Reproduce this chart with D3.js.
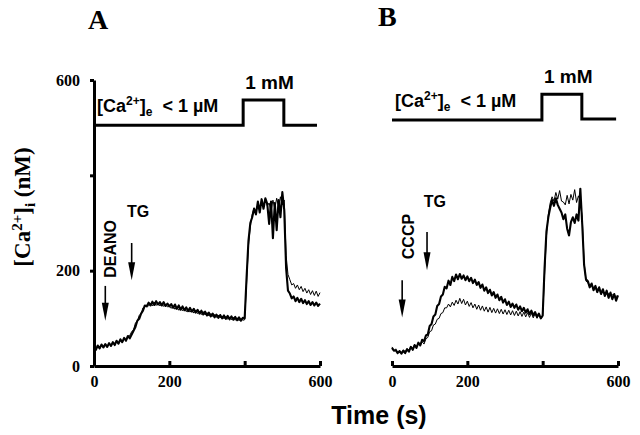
<!DOCTYPE html>
<meta charset="utf-8">
<style>
body { margin: 0; background: #fff; }
.trace { fill: none; stroke: #000; stroke-linejoin: round; }
.thick { stroke-width: 2.1px; }
.thin { stroke-width: 1px; }
.step { fill: none; stroke: #000; stroke-width: 3px; }
.axis path, .axis line { stroke: #000; stroke-width: 3px; }
.axis text { font-family: "Liberation Serif", "Times New Roman", serif; font-weight: bold; font-size: 16px; fill: #000; }
.sans { font-family: "Liberation Sans", Arial, sans-serif; font-weight: bold; fill: #000; }
.serif { font-family: "Liberation Serif", "Times New Roman", serif; font-weight: bold; fill: #000; }
</style>
<body>
<script src="https://d3js.org/d3.v7.min.js"></script>
<script>

// sample clock, one reading every 5 s
var times = d3.range(0, 605, 5);

// panel A (DEANO), [Ca2+]i in nM
var deanoThick = [40,34,43,37,45,39,46,40,48,42,50,44,53,47,56,50,59,53,63,58,
  66,74,82,95,99,110,116,127,125,133,127,135,128,136,129,134,127,134,126,131,
  125,130,122,129,120,127,118,125,117,123,115,122,114,120,112,118,110,116,108,114,
  106,112,104,110,102,108,101,107,100,106,99,105,98,104,97,103,96,102,95,101,
  100,185,262,300,312,330,318,345,322,350,330,352,340,298,345,268,342,285,348,312,365,328,
  205,158,152,142,146,136,143,134,141,132,138,130,136,128,134,127,133,126,131];
var deanoThin = [44,38,41,36,44,38,45,40,47,42,49,44,52,46,55,49,58,52,62,64,
  72,76,90,94,106,110,122,124,128,126,131,126,134,127,132,126,131,125,130,124,
  127,121,126,119,124,117,123,116,121,114,120,113,118,111,117,110,115,108,114,107,
  112,105,110,104,108,102,107,101,105,99,104,98,103,97,102,96,101,95,100,96,
  97,172,252,292,318,332,322,340,326,348,332,350,336,342,324,348,330,352,334,355,338,348,
  232,192,181,170,173,163,170,160,167,156,163,153,160,150,158,148,157,146,154];

// panel B (CCCP)
var cccpThick = [38,32,33,27,31,26,32,27,35,30,40,34,44,38,49,43,55,52,64,66,
  84,88,104,108,126,130,146,150,166,163,179,170,187,178,192,182,193,183,190,180,
  188,178,185,174,181,170,176,164,171,158,165,153,160,148,155,143,150,138,145,133,
  140,128,135,124,131,122,129,118,125,115,122,112,119,109,116,106,113,103,110,100,
  106,205,282,312,332,348,336,352,338,330,322,308,318,288,274,302,312,300,318,305,372,298,
  212,182,178,165,173,159,168,155,165,151,161,147,158,143,154,140,151,137,148];
var cccpThin = [40,32,36,29,33,28,34,30,37,33,41,36,45,40,48,43,51,46,57,60,
  72,74,86,88,98,100,110,112,122,122,130,124,134,127,138,130,142,131,140,128,
  136,125,133,122,130,119,128,117,126,115,124,113,123,112,121,111,120,110,119,109,
  118,108,117,107,116,106,115,105,114,104,113,103,112,102,111,101,110,100,109,99,
  104,192,272,318,342,355,346,364,350,368,346,344,338,358,340,360,348,370,343,357,346,312,
  218,178,175,166,168,165,162,161,158,157,154,154,151,152,148,150,146,147,144];

// extracellular Ca2+ protocol trace (drawn on the same y scale)
var stepTimesA = [0, 396, 504, 592];
var stepLevelsA = [505, 558, 505, 505];
var stepTimesB = [0, 398, 504, 595];
var stepLevelsB = [516, 570, 518, 518];

var xTicks = [0, 200, 400, 600];
var yTicks = [0, 200, 400, 600];

// arrows: time, top and tip in nM
var arrowsA = [{t: 30, top: 168, tip: 95}, {t: 100, top: 258, tip: 180}];
var arrowsB = [{t: 27, top: 180, tip: 102}, {t: 93, top: 281, tip: 201}];

var width = 640, height = 435;
var svg = d3.select("body").append("svg")
    .attr("width", width)
    .attr("height", height);

var y = d3.scaleLinear().domain([0, 600]).range([366, 80]);
var xA = d3.scaleLinear().domain([0, 600]).range([94, 320]);
var xB = d3.scaleLinear().domain([0, 600]).range([392, 618]);

function tickFmt(d) { return d === 400 ? "" : d; }

function drawPanel(x, thick, thin, stepT, stepL, arrows) {
  var g = svg.append("g");

  // x axis, ticks pointing up
  g.append("g")
      .attr("class", "axis")
      .attr("transform", "translate(0," + y(0) + ")")
      .call(d3.axisBottom(x).tickValues(xTicks).tickSizeInner(-5).tickSizeOuter(0)
        .tickPadding(10).tickFormat(tickFmt));

  var line = d3.line()
      .x(function(d, i) { return x(times[i]); })
      .y(function(d) { return y(d); });

  g.append("path").datum(thin).attr("class", "trace thin").attr("d", line);
  g.append("path").datum(thick).attr("class", "trace thick").attr("d", line);

  var stepLine = d3.line()
      .curve(d3.curveStepAfter)
      .x(function(d, i) { return x(stepT[i]); })
      .y(function(d) { return y(d); });
  g.append("path").datum(stepL).attr("class", "step").attr("d", stepLine);

  arrows.forEach(function(a) {
    var ax = x(a.t), top = y(a.top), tip = y(a.tip), head = 18;
    g.append("line")
        .attr("x1", ax).attr("x2", ax)
        .attr("y1", top).attr("y2", tip - head + 2)
        .attr("stroke", "#000").attr("stroke-width", 1.6);
    g.append("path")
        .attr("d", "M" + (ax - 3.5) + "," + (tip - head) + "L" + (ax + 3.5) + "," + (tip - head) + "L" + ax + "," + tip + "Z")
        .attr("fill", "#000");
  });

  // labels for the Ca2+ protocol
  var lab = g.append("text").attr("class", "sans")
      .attr("x", x(stepT[0]) + 3).attr("y", y(stepL[0]) - 13)
      .style("font-size", "18px");
  lab.append("tspan").text("[Ca");
  lab.append("tspan").attr("dy", -7).style("font-size", "12px").text("2+");
  lab.append("tspan").attr("dy", 7).text("]");
  lab.append("tspan").attr("dy", 4).style("font-size", "12px").text("e");
  lab.append("tspan").attr("dy", -4).text("\u00a0\u00a0< 1 \u00b5M");

  g.append("text").attr("class", "sans")
      .attr("x", x(stepT[1]) + 2).attr("y", y(stepL[1]) - 11)
      .style("font-size", "19px")
      .text("1 mM");
  return g;
}

var gA = drawPanel(xA, deanoThick, deanoThin, stepTimesA, stepLevelsA, arrowsA);
var gB = drawPanel(xB, cccpThick, cccpThin, stepTimesB, stepLevelsB, arrowsB);

// y axis only on panel A
gA.append("g")
    .attr("class", "axis")
    .attr("transform", "translate(" + xA(0) + ",0)")
    .call(d3.axisLeft(y).tickValues(yTicks).tickSize(4).tickSizeOuter(0)
      .tickPadding(10).tickFormat(tickFmt));

// drug labels
function vlabel(g, x, yb, txt) {
  g.append("text").attr("class", "sans")
      .attr("transform", "translate(" + x + "," + yb + ") rotate(-90)")
      .style("font-size", "16px")
      .text(txt);
}
vlabel(gA, xA(58), y(185), "DEANO");
vlabel(gB, xB(58), y(224), "CCCP");
gA.append("text").attr("class", "sans").attr("text-anchor", "middle")
    .attr("x", xA(117)).attr("y", y(312)).style("font-size", "16px").text("TG");
gB.append("text").attr("class", "sans").attr("text-anchor", "middle")
    .attr("x", xB(114)).attr("y", y(334)).style("font-size", "16px").text("TG");

// panel letters
svg.append("text").attr("class", "serif").attr("x", 88).attr("y", 29)
    .style("font-size", "28px").text("A");
svg.append("text").attr("class", "serif").attr("x", 378).attr("y", 26)
    .style("font-size", "28px").text("B");

// axis titles
var yt = svg.append("text").attr("class", "serif")
    .attr("text-anchor", "middle")
    .attr("transform", "translate(30,207) rotate(-90)")
    .style("font-size", "23px");
yt.append("tspan").text("[Ca");
yt.append("tspan").attr("dy", -8).style("font-size", "15px").text("2+");
yt.append("tspan").attr("dy", 8).text("]");
yt.append("tspan").attr("dy", 5).style("font-size", "15px").text("i");
yt.append("tspan").attr("dy", -5).text(" (nM)");

svg.append("text").attr("class", "sans")
    .attr("text-anchor", "middle")
    .attr("x", 379).attr("y", 424)
    .style("font-size", "25px")
    .text("Time (s)");

</script>
</body>
